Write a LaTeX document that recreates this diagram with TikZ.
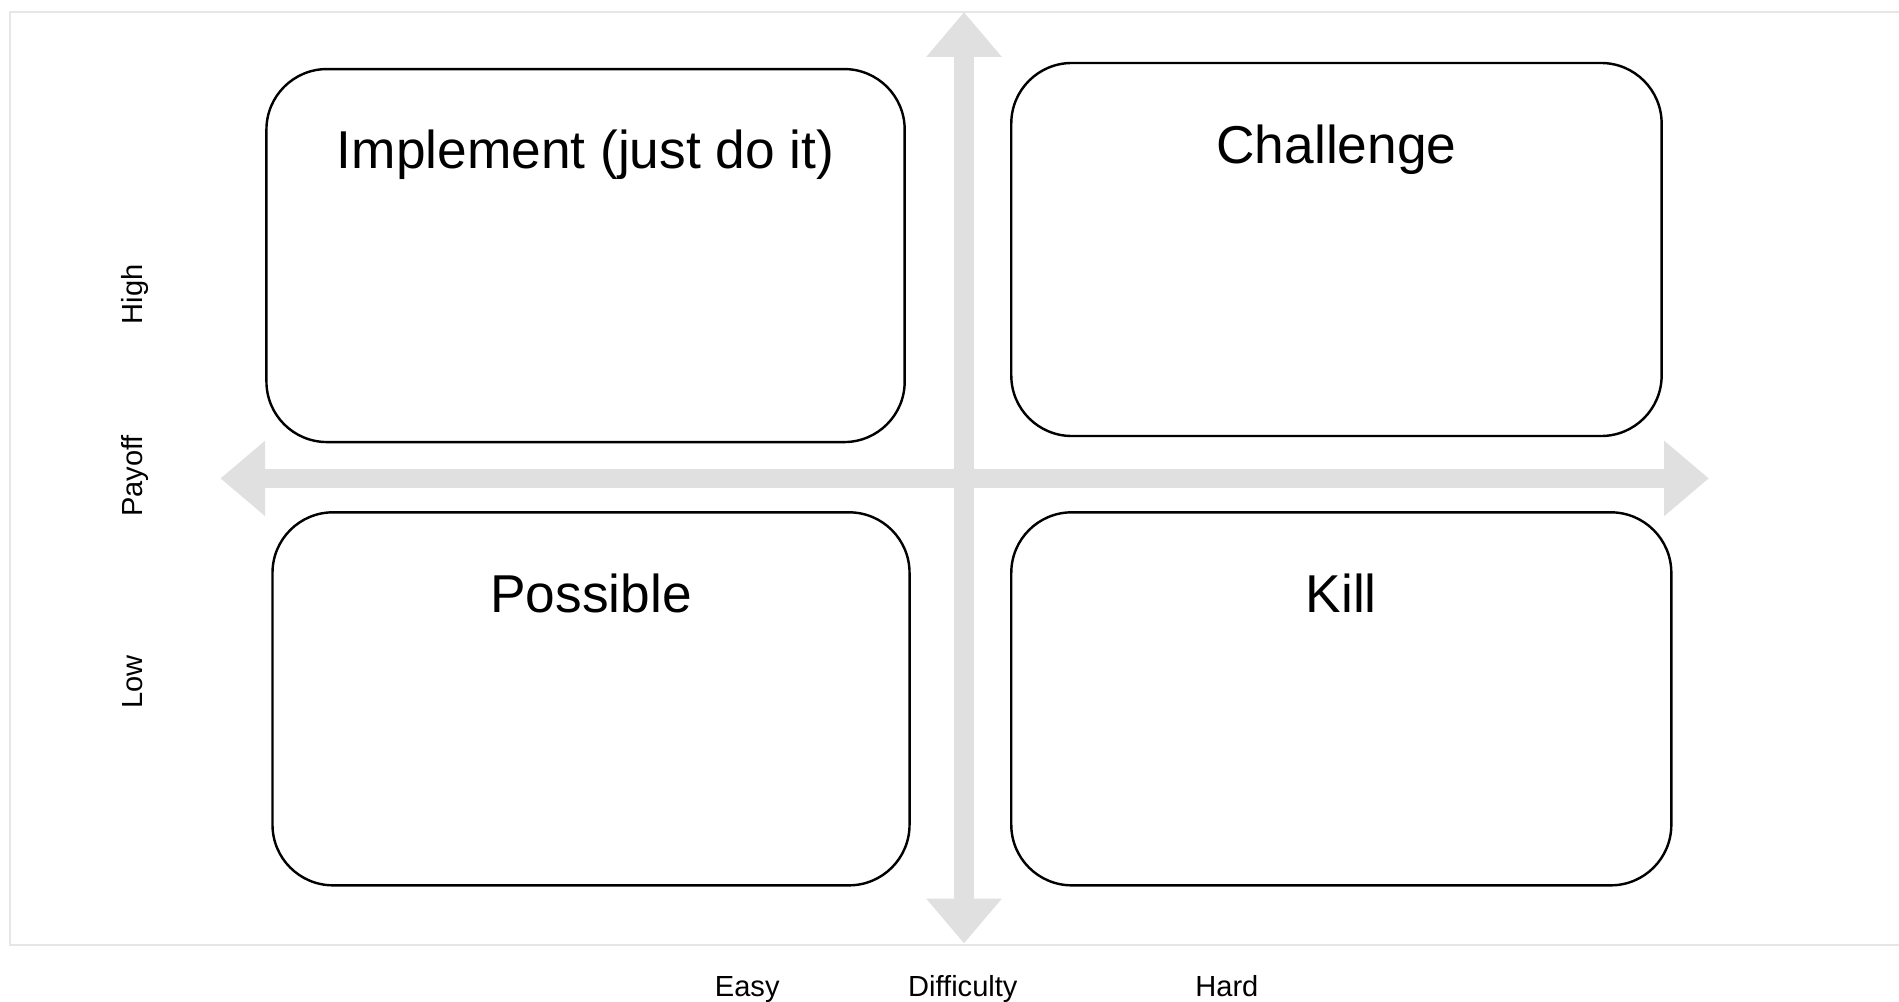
\documentclass[tikz,border=0pt]{standalone}
\usepackage{fontspec}
\setmainfont{Liberation Sans}
\usetikzlibrary{arrows.meta}
\definecolor{axisgray}{HTML}{E0E0E0}
\definecolor{framegray}{HTML}{E6E6E6}

\begin{document}
\begin{tikzpicture}[x=0.5pt, y=-0.5pt,
  quad/.style={draw, line width=1pt, rounded corners=25pt, inner sep=0pt, minimum height=154pt},
  head/.style={font=\fontsize{22}{26}\selectfont, anchor=base},
  axislabel/.style={font=\fontsize{12}{14}\selectfont, inner sep=0pt, anchor=base},
  axis/.style={draw=axisgray, line width=8pt,
    {Triangle[length=18.5pt,width=30pt]}-{Triangle[length=18.5pt,width=30pt]}}]
  \useasboundingbox (0,0) rectangle (1568,827);
  \draw[framegray, line width=0.8pt] (8,10) rectangle (1600,780);

  \coordinate (top) at (796,10);
  \coordinate (bottom) at (796,779);
  \coordinate (left) at (182,395);
  \coordinate (right) at (1411,395);
  \draw[axis] (top) -- (bottom);
  \draw[axis] (left) -- (right);

  \node[quad, minimum width=263.5pt] (impl) at (483.5,211) {};
  \node[quad, minimum width=268.5pt] (chal) at (1103.5,206) {};
  \node[quad, minimum width=263pt] (poss) at (488,577) {};
  \node[quad, minimum width=272.5pt] (kill) at (1107.5,577) {};
  \node[head] (implT) at ([yshift=-41.5pt]impl.north) {Implement (just do it)};
  \node[head] (chalT) at ([yshift=-42pt]chal.north) {Challenge};
  \node[head] (possT) at ([yshift=-42pt]poss.north) {Possible};
  \node[head] (killT) at ([yshift=-42pt]kill.north) {Kill};

  \node[axislabel, rotate=90] (high) at (118,243) {High};
  \node[axislabel, rotate=90] (payoff) at (118,393) {Payoff};
  \node[axislabel, rotate=90] (low) at (118,563) {Low};
  \node[axislabel] (easy) at (617,823) {Easy};
  \node[axislabel] (diff) at (795,823) {Difficulty};
  \node[axislabel] (hard) at (1013,823) {Hard};
\end{tikzpicture}
\end{document}
